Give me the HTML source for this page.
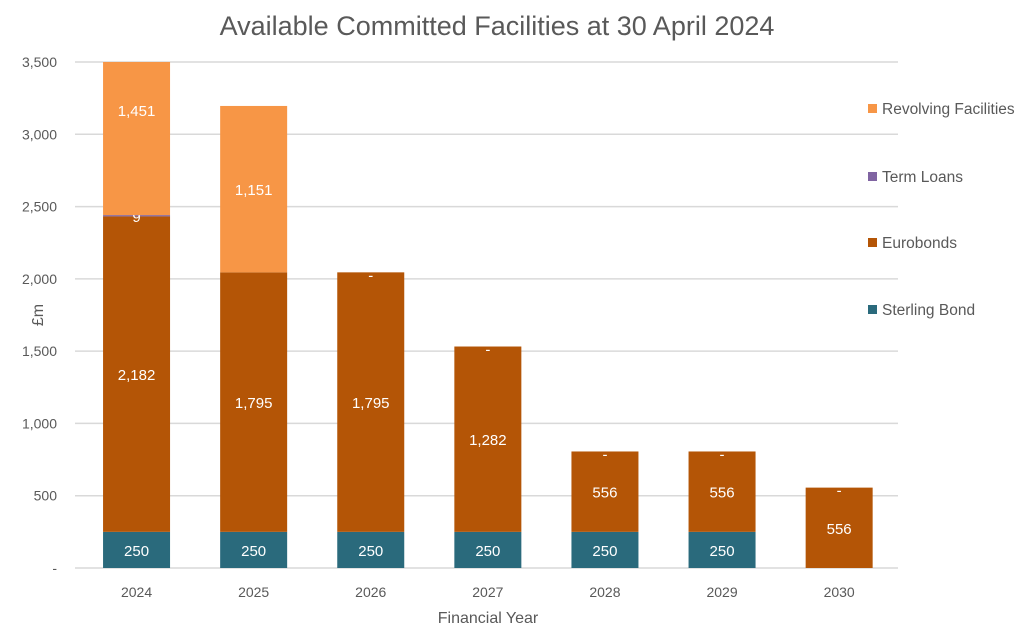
<!DOCTYPE html><html><head><meta charset="utf-8"><style>body{margin:0;background:#fff}svg{display:block;font-family:"Liberation Sans",sans-serif}</style></head><body>
<svg id="c" width="1030" height="631"></svg>
<script>
const years=["2024","2025","2026","2027","2028","2029","2030"];
const sterling=[250,250,250,250,250,250,0];
const euro=[2182,1795,1795,1282,556,556,556];
const term=[9,0,0,0,0,0,0];
const revolving=[1451,1151,0,0,0,0,0];
const yTicks=[0,500,1000,1500,2000,2500,3000,3500];
const yTickLabels=["-","500","1,000","1,500","2,000","2,500","3,000","3,500"];
const series=[["Sterling Bond",sterling,"#2a6a7c"],["Eurobonds",euro,"#b45506"],["Term Loans",term,"#8064a2"],["Revolving Facilities",revolving,"#f79646"]];
const NS="http://www.w3.org/2000/svg",s=document.getElementById('c');
const y0=568,yTop=62,yMax=3500,x0=78,step=117.1,bw=67;
const Yu=v=>y0-v/yMax*(y0-yTop);
const Y=v=>Yu(Math.min(v,yMax));
const X=i=>x0+step*(i+0.5);
function el(t,a,txt){const e=document.createElementNS(NS,t);for(const k in a)e.setAttribute(k,a[k]);if(txt!=null)e.textContent=txt;s.appendChild(e);return e;}
let t=el('text',{x:497,y:35,'text-anchor':'middle','font-size':27,fill:'#595959'},'Available Committed Facilities at 30 April 2024');

yTicks.forEach((v,i)=>{let g=el('line',{x1:75,x2:898,y1:Y(v),y2:Y(v),stroke:'#d9d9d9','stroke-width':1.5});

let l=el('text',{x:57,y:Y(v)+5,'text-anchor':'end','font-size':14,fill:'#595959'},yTickLabels[i]);
});
years.forEach((yr,i)=>{let cum=0;
series.forEach(([nm,arr,col],si)=>{const v=arr[i];const a=cum,b=cum+v;cum=b;
 if(v>0){let r=el('rect',{x:X(i)-bw/2,y:Y(b),width:bw,height:Y(a)-Y(b),fill:col});
 }
 if(a>=yMax)return;
 let txt=null,ty;
 if(v>0){txt=v.toLocaleString('en-US');ty=(Yu(a)+Yu(b))/2+6;}
 else if(si==3&&term[i]==0){txt='-';ty=Y(a)+8;}
 if(txt){if(si==2&&v>0)ty=Y(b)+7;
  let l=el('text',{x:X(i),y:ty,'text-anchor':'middle','font-size':15,fill:'#fff'},txt);
  }
});
let l=el('text',{x:X(i),y:597,'text-anchor':'middle','font-size':14,fill:'#595959'},yr);
});
t=el('text',{x:488,y:623,'text-anchor':'middle','font-size':16,fill:'#595959'},'Financial Year');

t=el('text',{x:0,y:0,'text-anchor':'middle','font-size':16,fill:'#595959',transform:'translate(43,315) rotate(-90)'},'£m');

const ly=[310,243,177,109];
series.forEach(([nm,arr,col],i)=>{let r=el('rect',{x:868,y:ly[i]-5,width:9,height:9,fill:col});

let l=el('text',{x:882,y:ly[i]+5,'font-size':15.5,fill:'#595959'},nm);
});
</script></body></html>
